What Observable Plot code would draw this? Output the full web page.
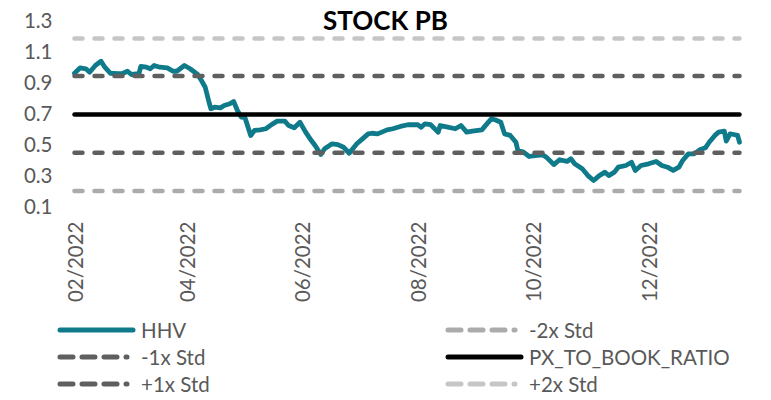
<!DOCTYPE html>
<html>
<head>
<meta charset="utf-8">
<script src="https://cdn.jsdelivr.net/npm/d3@7"></script>
<script src="https://cdn.jsdelivr.net/npm/@observablehq/plot@0.6"></script>
<style>
  html, body { margin: 0; padding: 0; background: #fff; }
  #wrap { position: relative; width: 771px; height: 400px; font-family: Lato, "Open Sans", sans-serif; }
  #title { position: absolute; left: 0; width: 771px; top: 4px; text-align: center; font-weight: bold; font-size: 26px; color: #000; pointer-events: none; }
  .leg { position: absolute; display: flex; align-items: center; font-size: 20.5px; color: #595959; white-space: nowrap; }
  .leg svg { display: block; margin-right: 4px; }
</style>
</head>
<body>
<div id="wrap">
  <div id="chart"></div>
  <div id="title">STOCK PB</div>
  <div id="legend"></div>
</div>
<script>
// ---- data ----
const dates = [
  "2022-01-31","2022-02-03","2022-02-06","2022-02-08","2022-02-11","2022-02-14","2022-02-16","2022-02-19",
  "2022-02-23","2022-02-25","2022-02-28","2022-03-02","2022-03-06","2022-03-07","2022-03-10","2022-03-12",
  "2022-03-14","2022-03-17","2022-03-21","2022-03-24","2022-03-26","2022-03-30","2022-04-02","2022-04-06",
  "2022-04-08","2022-04-10","2022-04-12","2022-04-13","2022-04-15","2022-04-18","2022-04-20","2022-04-23",
  "2022-04-25","2022-04-27","2022-04-29","2022-05-01","2022-05-04","2022-05-06","2022-05-09","2022-05-12",
  "2022-05-15","2022-05-18","2022-05-22","2022-05-24","2022-05-27","2022-05-30","2022-06-02","2022-06-05",
  "2022-06-07","2022-06-10","2022-06-12","2022-06-16","2022-06-19","2022-06-22","2022-06-25","2022-06-29",
  "2022-07-02","2022-07-05","2022-07-07","2022-07-10","2022-07-15","2022-07-18","2022-07-22","2022-07-26",
  "2022-07-31","2022-08-02","2022-08-04","2022-08-07","2022-08-11","2022-08-12","2022-08-16","2022-08-20",
  "2022-08-23","2022-08-26","2022-08-29","2022-09-03","2022-09-06","2022-09-08","2022-09-10","2022-09-13",
  "2022-09-15","2022-09-18","2022-09-21","2022-09-22","2022-09-25","2022-09-28","2022-10-01","2022-10-05",
  "2022-10-07","2022-10-11","2022-10-14","2022-10-18","2022-10-20","2022-10-22","2022-10-26","2022-10-29",
  "2022-11-01","2022-11-04","2022-11-07","2022-11-09","2022-11-12","2022-11-14","2022-11-18","2022-11-21",
  "2022-11-23","2022-11-26","2022-11-30","2022-12-04","2022-12-07","2022-12-10","2022-12-13","2022-12-16",
  "2022-12-18","2022-12-21","2022-12-24","2022-12-27","2022-12-30","2023-01-01","2023-01-04","2023-01-06",
  "2023-01-09","2023-01-10","2023-01-12","2023-01-14","2023-01-16","2023-01-17"
];
const hhv = [
  0.966,1.001,0.995,0.973,1.016,1.044,1.005,0.966,
  0.963,0.963,0.979,0.958,0.963,1.010,1.005,0.995,
  1.016,1.005,1.001,0.979,0.979,1.016,0.995,0.958,
  0.919,0.876,0.779,0.737,0.747,0.743,0.758,0.769,
  0.784,0.726,0.683,0.679,0.565,0.597,0.601,0.608,
  0.635,0.657,0.657,0.629,0.614,0.650,0.586,0.532,
  0.500,0.442,0.479,0.511,0.506,0.489,0.450,0.511,
  0.543,0.575,0.579,0.575,0.601,0.608,0.623,0.634,
  0.635,0.618,0.640,0.634,0.586,0.629,0.618,0.608,
  0.629,0.586,0.592,0.601,0.644,0.672,0.666,0.650,
  0.575,0.565,0.521,0.468,0.457,0.429,0.435,0.440,
  0.425,0.377,0.408,0.397,0.414,0.382,0.350,0.306,
  0.274,0.306,0.328,0.306,0.328,0.360,0.371,0.392,
  0.339,0.371,0.382,0.397,0.371,0.360,0.339,0.360,
  0.403,0.446,0.446,0.472,0.485,0.521,0.565,0.586,
  0.592,0.528,0.575,0.571,0.565,0.521
];
const levelNames  = ["-2x Std", "-1x Std", "PX_TO_BOOK_RATIO", "+1x Std", "+2x Std"];
const levelValues = [0.206, 0.453, 0.700, 0.948, 1.190];
const xTickDates  = ["2022-02-01","2022-04-01","2022-06-01","2022-08-01","2022-10-01","2022-12-01"];
const yTicks      = [0.1, 0.3, 0.5, 0.7, 0.9, 1.1, 1.3];

// ---- styles ----
const seriesStyle = {
  "HHV":              {stroke: "#0E7A8A", dash: null},
  "-2x Std":          {stroke: "#ABABAB", dash: "8,12"},
  "-1x Std":          {stroke: "#5F5F5F", dash: "8,12"},
  "PX_TO_BOOK_RATIO": {stroke: "#000000", dash: null},
  "+1x Std":          {stroke: "#5F5F5F", dash: "8,12"},
  "+2x Std":          {stroke: "#C6C6C6", dash: "8,12"}
};

const parse = d3.utcParse("%Y-%m-%d");
const series = dates.map((d, i) => ({date: parse(d), value: hhv[i]}));
const x0 = series[0].date, x1 = series[series.length - 1].date;
const levels = levelNames.map((name, i) => [
  {name, date: x0, value: levelValues[i]},
  {name, date: x1, value: levelValues[i]}
]);

const marks = [
  Plot.line(series, {x: "date", y: "value", stroke: seriesStyle["HHV"].stroke, strokeWidth: 4.8, strokeLinejoin: "round", strokeLinecap: "round"})
];
for (const lv of levels) {
  const st = seriesStyle[lv[0].name];
  marks.push(Plot.line(lv, {x: "date", y: "value", stroke: st.stroke, strokeWidth: 4.5,
    strokeLinecap: "round", strokeDasharray: st.dash || undefined}));
}
marks.push(Plot.axisY({ticks: yTicks, tickSize: 0, tickPadding: 22, tickFormat: d3.format(".1f"),
  fontSize: 20.5, fill: "#595959", label: null}));
marks.push(Plot.axisX({ticks: xTickDates.map(parse), tickSize: 0, tickPadding: 14, tickRotate: -90,
  tickFormat: d3.utcFormat("%m/%Y"), fontSize: 20.5, fill: "#595959", label: null}));

const chart = Plot.plot({
  width: 771,
  height: 310,
  marginTop: 21,
  marginBottom: 103,
  marginLeft: 74,
  marginRight: 32,
  style: {fontFamily: "Lato, 'Open Sans', sans-serif", background: "#fff", overflow: "visible"},
  x: {type: "utc", domain: [x0, x1]},
  y: {domain: [0.1, 1.3]},
  marks
});
document.getElementById("chart").appendChild(chart);

// ---- legend ----
const legendOrder = ["HHV", "-2x Std", "-1x Std", "PX_TO_BOOK_RATIO", "+1x Std", "+2x Std"];
const legend = document.getElementById("legend");
legendOrder.forEach((name, i) => {
  const col = i % 2, row = Math.floor(i / 2);
  const st = seriesStyle[name];
  const div = document.createElement("div");
  div.className = "leg";
  div.style.left = (col === 0 ? 57 : 445) + "px";
  div.style.top = (318 + row * 27) + "px";
  const line = st.dash
    ? `<line x1="3" x2="70" y1="11" y2="11" stroke="${st.stroke}" stroke-width="5" stroke-linecap="round" stroke-dasharray="13,9"/>`
    : `<line x1="3" x2="76" y1="11" y2="11" stroke="${st.stroke}" stroke-width="5" stroke-linecap="round"/>`;
  div.innerHTML = `<svg width="80" height="22">${line}</svg><span>${name}</span>`;
  legend.appendChild(div);
});
</script>
</body>
</html>
